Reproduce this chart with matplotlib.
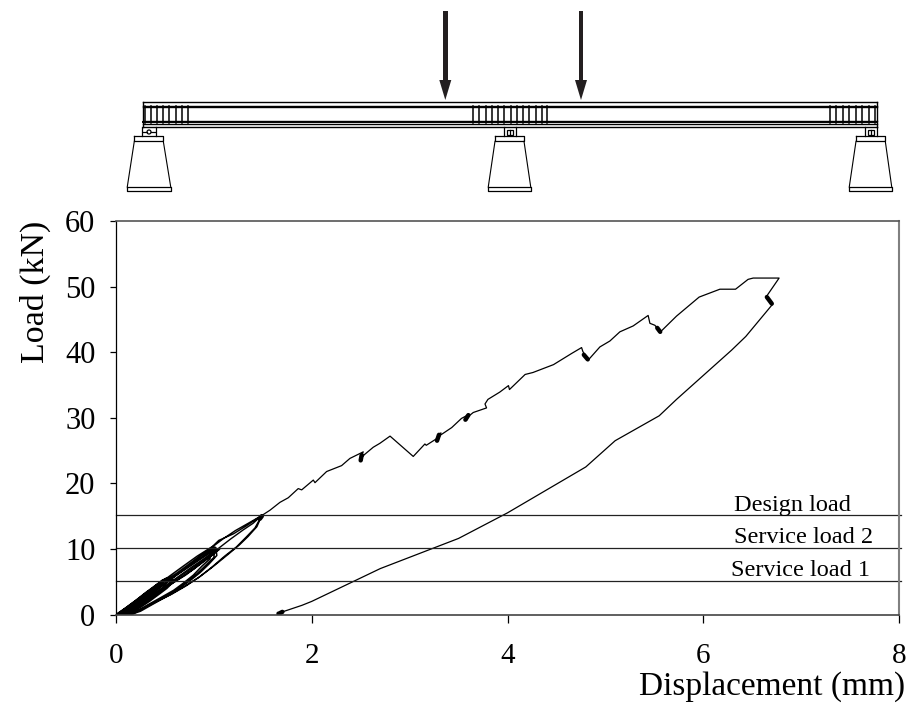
import matplotlib
matplotlib.use('Agg')
import matplotlib.pyplot as plt
from matplotlib.patches import Polygon, Circle, Rectangle

plt.rcParams['font.family'] = ['Liberation Serif', 'DejaVu Serif']

# displacement (mm) / load (kN)
# cycles up to 5 kN
c5_x = [0, .10, .19, .28, .37, .47, .50, .43, .35, .25, .16, .06,
        .02, .12, .21, .30, .39, .50, .54, .47, .38, .29, .19, .09,
        .04, .13, .23, .33, .43, .53, .57, .50, .41, .32, .21, .12,
        .01, .09, .20, .30, .41, .52, .60, .52, .44, .34, .23, .14]
c5_y = [0, 1.0, 2.0, 3.0, 4.0, 5.2, 5.4, 4.0, 3.0, 2.0, 1.0, .1,
        .1, 1.1, 2.1, 3.1, 4.1, 5.3, 5.2, 4.0, 3.0, 2.0, 1.0, .1,
        .1, 1.0, 2.2, 3.2, 4.3, 5.4, 5.2, 4.0, 3.0, 2.0, .9, .1,
        .0, .9, 2.1, 3.3, 4.5, 5.6, 5.2, 4.0, 3.1, 2.0, .9, .1]
# cycles up to 10 kN
c10_x = [.05, .14, .25, .36, .46, .57, .69, .83, .99, .96, .88, .79, .69, .59, .46, .34, .22, .13,
         .06, .17, .28, .39, .50, .62, .74, .87, 1.01, 1.00, .91, .82, .72, .62, .49, .36, .24, .15,
         .07, .17, .30, .42, .54, .66, .78, .90, 1.02, 1.03, .95, .86, .76, .64, .51, .38, .25, .17,
         .04, .14, .24, .34, .43, .53, .62, .72, .82, .92, 1.02, 1.04, .95, .86, .77, .67, .57, .47, .37, .27, .17, .07,
         .10, .20, .30, .40, .50, .60, .70, .80, .89, .98, 1.06, .97, .90, .80, .71, .60, .50, .41, .31, .21, .11]
c10_y = [.1, 1.1, 2.3, 3.6, 4.9, 6.1, 7.4, 8.9, 10.4, 8.5, 7.4, 6.0, 4.8, 3.7, 2.6, 1.6, .6, .1,
         .1, 1.2, 2.4, 3.7, 5.1, 6.3, 7.6, 9.0, 10.3, 8.7, 7.4, 6.1, 5.0, 3.8, 2.6, 1.6, .7, .1,
         .1, 1.0, 2.4, 3.8, 5.2, 6.5, 7.8, 9.0, 10.2, 9.0, 7.7, 6.4, 5.2, 3.9, 2.7, 1.6, .5, .1,
         .1, 1.0, 2.0, 3.0, 4.0, 5.0, 6.0, 7.0, 8.0, 9.0, 10.0, 10.0, 9.0, 8.0, 7.0, 6.0, 5.0, 4.0, 3.0, 2.0, 1.0, .1,
         .1, 1.0, 2.0, 3.0, 4.0, 5.0, 6.0, 7.0, 8.0, 9.0, 10.0, 9.0, 8.2, 7.0, 6.0, 5.0, 4.0, 3.1, 2.1, 1.1, .1]
# cycles up to 15 kN
c15_x = [.08, .20, .32, .44, .56, .68, .80, .95, 1.10, 1.22, 1.35, 1.49,
         1.42, 1.33, 1.23, 1.11, .97, .84, .70, .55, .39, .24, .16,
         .10, .22, .33, .45, .58, .72, .86, .98, 1.05, 1.20, 1.33, 1.49,
         1.44, 1.35, 1.26, 1.14, 1.00, .86, .72, .57, .41, .26, .18,
         .09, .24, .36, .50, .63, .77, .90, 1.04, 1.17, 1.30, 1.40, 1.49]
c15_y = [.1, 1.2, 2.5, 4.0, 5.4, 6.8, 8.1, 9.9, 11.6, 12.8, 13.9, 15.1,
         13.2, 11.8, 10.3, 8.9, 7.1, 5.6, 4.3, 3.0, 1.8, .6, .1,
         .1, 1.3, 2.8, 4.2, 5.6, 7.3, 9.0, 10.3, 11.3, 12.3, 13.5, 15.1,
         13.4, 11.9, 10.6, 9.1, 7.4, 5.8, 4.4, 3.1, 1.9, .8, .1,
         .1, 1.5, 2.7, 4.3, 5.7, 7.2, 8.5, 10.0, 11.5, 12.9, 13.9, 15.1]

main_x = [1.49, 1.573, 1.675, 1.76, 1.862, 1.897, 2.016, 2.033, 2.152, 2.305, 2.39, 2.526, 2.49, 2.53, 2.5,
          2.628, 2.696, 2.80, 3.037, 3.156, 3.17, 3.275, 3.32, 3.285, 3.31, 3.43, 3.53, 3.606, 3.58, 3.6,
          3.65, 3.786, 3.77, 3.80, 3.92, 4.01, 4.02, 4.18, 4.26, 4.47, 4.655, 4.757, 4.77, 4.825, 4.944,
          5.046, 5.148, 5.284, 5.437, 5.455, 5.506, 5.563, 5.727, 5.958, 6.17, 6.33, 6.458, 6.51, 6.775,
          6.646, 6.708, 6.435, 6.289, 5.727, 5.55, 5.1, 4.8, 4.0, 3.5, 2.7, 2.0, 1.9, 1.72, 1.67, 1.65]
main_y = [15.1, 15.9, 17.1, 17.8, 19.2, 19.0, 20.5, 20.1, 21.8, 22.7, 23.8, 24.8, 23.5, 24.3, 23.9,
          25.5, 26.1, 27.2, 24.1, 26.0, 25.8, 26.8, 27.7, 26.4, 27.3, 28.5, 29.9, 30.5, 29.6, 30.2,
          30.8, 31.5, 32.1, 32.8, 33.9, 34.9, 34.3, 36.6, 36.9, 38.1, 39.8, 40.7, 40.1, 38.8, 40.8,
          41.7, 43.1, 44.0, 45.6, 44.4, 44.1, 43.1, 45.5, 48.4, 49.6, 49.6, 51.1, 51.3, 51.3,
          48.5, 47.3, 42.4, 40.3, 32.8, 30.3, 26.5, 22.5, 15.5, 11.6, 7.0, 2.0, 1.4, 0.5, 0.0, 0.3]

# short dense stretches where the trace piles up on itself
blob_x = [(2.50, 2.51), (3.28, 3.30), (3.57, 3.60), (4.78, 4.82), (5.53, 5.56), (6.65, 6.70), (1.66, 1.70), (1.47, 1.49)]
blob_y = [(23.5, 24.3), (26.5, 27.4), (29.7, 30.4), (39.6, 38.9), (43.7, 43.1), (48.4, 47.4), (0.1, 0.4), (14.6, 15.0)]

load_levels = [15.2, 10.2, 5.1]
load_names = ['Design load', 'Service load 2', 'Service load 1']
load_name_x = [6.31, 6.31, 6.285]
load_name_y = [15.8, 10.9, 5.8]

xticks = [0, 2, 4, 6, 8]
yticks = [0, 10, 20, 30, 40, 50, 60]

# beam sketch above the plot, in pixels of the picture
rail_y = [101.5, 105.5, 107, 120.5, 122, 123.5, 127]
stiffeners = [145, 151, 157.3, 163.3, 169.3, 175.7, 181.7, 188.3,
              473, 479.3, 485.5, 491.8, 498, 504.3, 510.5, 516.8, 523, 529.3, 535.5, 541.8, 546.7,
              830, 836.4, 842.8, 849.2, 855.7, 862.1, 868.5, 875]
arrow_x = [445.3, 581]
pier_bottom = [(127.3, 170.7), (488.3, 530.7), (849.3, 891.7)]
pier_top = [(134.3, 163.3), (495, 524), (856, 885.3)]
bearing = [(142.3, 155.7), (504, 515.7), (865, 876.7)]

fig = plt.figure(figsize=(9.16, 7.06), dpi=100)
ax = fig.add_axes([116 / 916, 1 - 614.5 / 706, (899 - 116) / 916, (614.5 - 221) / 706])

ax.plot(c5_x, c5_y, color='k', lw=1.2)
ax.plot(c10_x, c10_y, color='k', lw=1.1)
ax.plot(c15_x, c15_y, color='k', lw=1.0)
ax.plot(main_x, main_y, color='k', lw=0.9)
for bx, by in zip(blob_x, blob_y):
    ax.plot(bx, by, color='k', lw=3.2, solid_capstyle='round')
for lev in load_levels:
    ax.plot([0, 8.02], [lev, lev], color='#222222', lw=0.9, clip_on=False)
for name, tx, ty in zip(load_names, load_name_x, load_name_y):
    ax.text(tx, ty, name, fontsize=17.5, ha='left', va='baseline', color='k')

ax.set_xlim(0, 8)
ax.set_ylim(0, 60)
ax.set_xticks(xticks)
ax.set_yticks(yticks)
ax.tick_params(axis='x', labelsize=21, length=5.8, width=0.9, pad=15)
ax.tick_params(axis='y', labelsize=22, length=4.3, width=0.9, pad=10.5)
ax.spines['left'].set_linewidth(0.9)
ax.spines['top'].set_color('#555555')
ax.spines['top'].set_linewidth(1.2)
ax.spines['right'].set_color('#808080')
ax.spines['right'].set_linewidth(1.5)
ax.spines['bottom'].set_color('#444444')
ax.spines['bottom'].set_linewidth(1.2)
fig.text(905 / 916, 1 - 695 / 706, 'Displacement (mm)', fontsize=24, ha='right', va='baseline')
fig.text(35 / 916, 1 - 291.5 / 706, 'Load (kN)', fontsize=24.4, rotation=90, ha='center', va='center')

# sketch
sk = fig.add_axes([0, 0, 1, 1], facecolor='none')
sk.set_xlim(0, 916)
sk.set_ylim(706, 0)
sk.axis('off')
for ry in rail_y:
    sk.plot([143, 877], [ry, ry], color='k', lw=1.0 if ry != 122 else 1.4)
sk.plot([143, 143], [101.5, 127], color='k', lw=1)
sk.plot([877, 877], [101.5, 127], color='k', lw=1)
for sx in stiffeners:
    sk.plot([sx, sx], [105.5, 123], color='k', lw=1.1)
for ax_x in arrow_x:
    sk.add_patch(Rectangle((ax_x - 2.4, 11), 4.8, 70, color='#231f20', lw=0))
    sk.add_patch(Polygon([(ax_x - 6, 80), (ax_x + 6, 80), (ax_x, 100)], closed=True, color='#231f20', lw=0))
for (b0, b1), (t0, t1), (c0, c1) in zip(pier_bottom, pier_top, bearing):
    sk.plot([t0, t1, t1, t0, t0], [136, 136, 141.3, 141.3, 136], color='k', lw=0.9)
    sk.plot([t0, b0], [141.3, 186.7], color='k', lw=0.8)
    sk.plot([t1, b1], [141.3, 186.7], color='k', lw=0.8)
    sk.plot([b0, b1, b1, b0, b0], [186.7, 186.7, 191, 191, 186.7], color='k', lw=0.9)
    sk.plot([c0, c0], [127, 136], color='k', lw=0.9)
    sk.plot([c1, c1], [127, 136], color='k', lw=0.9)
sk.add_patch(Circle((149, 132), 2, fill=False, ec='k', lw=0.9))
sk.plot([143, 147], [132, 132], color='k', lw=0.9)
sk.plot([151, 155], [132, 132], color='k', lw=0.9)
for c0, c1 in bearing[1:]:
    sk.add_patch(Rectangle((c0 + 2.5, 129.5), c1 - c0 - 5, 5, fill=False, ec='k', lw=0.9))
    sk.plot([(c0 + c1) / 2] * 2, [129.5, 134.5], color='k', lw=0.9)

fig.savefig('out.png', dpi=100)
